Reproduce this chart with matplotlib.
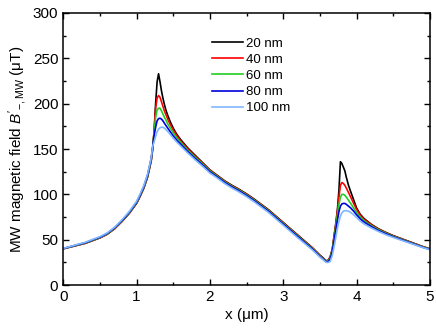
import numpy as np
import matplotlib
import matplotlib.pyplot as plt

matplotlib.use("Agg")

matplotlib.rcParams['font.family'] = ['Liberation Sans', 'DejaVu Sans']
matplotlib.rcParams['mathtext.fontset'] = 'custom'
matplotlib.rcParams['mathtext.rm'] = 'Liberation Sans'
matplotlib.rcParams['mathtext.it'] = 'Liberation Sans:italic'

# ==============================================================================
# data (x in um, field in uT)
x_um = [0.0, 0.1, 0.2, 0.3, 0.4, 0.5, 0.6, 0.7, 0.8, 0.9, 1.0, 1.05, 1.1, 1.15, 1.2,
        1.22, 1.24, 1.26, 1.28, 1.30, 1.32, 1.34, 1.36, 1.38, 1.40, 1.43, 1.46, 1.5, 1.55,
        1.6, 1.7, 1.8, 1.9, 2.0,
        2.1, 2.2, 2.3, 2.4, 2.5, 2.6, 2.7, 2.8, 2.9, 3.0, 3.1, 3.2, 3.3, 3.4, 3.45, 3.5, 3.55,
        3.58, 3.61, 3.64, 3.67, 3.70, 3.72, 3.74, 3.76,
        3.78, 3.80, 3.82, 3.84, 3.86, 3.89, 3.92, 3.96, 4.0, 4.05, 4.1,
        4.2, 4.3, 4.4, 4.5, 4.6, 4.7, 4.8, 4.9, 5.0]

b_20nm = [40, 42, 44, 46, 49, 52, 56, 62, 70, 79, 90, 98, 107, 119, 137,
          150, 170, 200, 224, 233, 224, 214, 206, 199, 193, 186, 180, 173, 166,
          160.5, 151, 143, 135, 127,
          121, 115, 110, 105.5, 100.5, 95, 89, 83, 76, 69, 62, 55, 48, 41, 37, 33, 29.5,
          27, 27, 31, 40, 58, 70, 84, 105,
          136, 134, 130, 126, 119, 110, 103, 94, 85, 78, 73.5,
          67, 62, 58, 54.5, 51.5, 48.5, 45.5, 42.5, 40]
b_40nm = [40, 42, 44, 46.1, 49.1, 52.1, 56.2, 62.2, 70.2, 79.3, 90.3, 98.4, 107.5, 119.5, 137.5,
          150.5, 170, 195, 206, 209, 207, 202, 197, 192, 188, 182, 177, 171, 164.5,
          159, 150, 142, 134.3, 126.5,
          120.6, 114.6, 109.6, 105.1, 100.1, 94.6, 88.6, 82.6, 75.6, 68.6, 61.6, 54.6, 47.6, 40.6, 36.6, 32.6, 29.2,
          26.7, 26.7, 30.5, 39.5, 57, 68, 82, 97,
          110, 113, 112, 110, 107, 102, 97, 90, 83.5, 77, 72.5,
          66.5, 61.5, 57.7, 54.2, 51.2, 48.3, 45.3, 42.3, 39.8]
b_60nm = [40.2, 42.2, 44.3, 46.4, 49.4, 52.4, 56.5, 62.6, 70.6, 79.7, 90.8, 99, 108.2, 120.3, 138.5,
          151.5, 169, 185, 193, 195, 195, 192, 188.5, 185, 182, 177, 173, 168, 162,
          157.5, 148.5, 141, 133.5, 125.8,
          120, 114, 109, 104.5, 99.5, 94, 88, 82, 75, 68, 61, 54, 47, 40, 36, 32, 28.7,
          26.3, 26.2, 29.5, 38.5, 55, 66, 78, 89,
          97, 100, 100, 99, 97, 93.5, 90, 85, 80, 75, 71,
          65.5, 61, 57.2, 53.8, 50.8, 47.9, 45, 42, 39.6]
b_80nm = [40.3, 42.4, 44.6, 46.7, 49.8, 52.8, 57, 63.1, 71.1, 80.2, 91.4, 99.7, 109, 121.2, 139.5,
          152.5, 165, 174, 181, 183.5, 184, 183, 181, 178.5, 176, 172.5, 169, 164.5, 159.5,
          155.5, 147, 139.5, 132.3, 124.8,
          119.2, 113.2, 108.2, 103.7, 98.7, 93.2, 87.2, 81.2, 74.2, 67.2, 60.2, 53.2, 46.3, 39.4, 35.5, 31.5, 28.2,
          25.9, 25.6, 28.2, 37, 52, 62, 72, 81,
          87, 89.5, 90, 90, 89, 87, 85, 81.5, 77.5, 73, 69.5,
          64.5, 60, 56.5, 53.2, 50.3, 47.5, 44.6, 41.7, 39.3]
b_100nm = [40.5, 42.6, 44.9, 47.1, 50.2, 53.3, 57.5, 63.7, 71.8, 81, 92.3, 100.7, 110, 122.3, 140.5,
           153, 158, 164, 169, 172, 173.5, 174, 174, 173, 171.5, 169, 166, 162, 157.5,
           153.5, 145.5, 138, 131, 123.5,
           118, 112, 107, 102.5, 97.5, 92, 86, 80, 73, 66, 59, 52, 45.3, 38.5, 34.7, 30.8, 27.5,
           25.3, 24.8, 26, 33, 45, 54, 63, 70,
           76, 79.5, 81.5, 82, 82, 81.5, 80, 77.5, 74.5, 70.5, 67.5,
           63, 59, 55.5, 52.5, 49.7, 47, 44.2, 41.4, 39]

series = [b_20nm, b_40nm, b_60nm, b_80nm, b_100nm]
labels = ['20 nm', '40 nm', '60 nm', '80 nm', '100 nm']
colors = ['black', '#ff0000', '#22cc22', '#0000dd', '#80b8ff']

# ==============================================================================
fig = plt.figure(figsize=(4.36, 3.33), dpi=100)
ax = fig.add_axes([0.145, 0.144, 0.841, 0.817])

for y, lab, col in zip(series, labels, colors):
    ax.plot(x_um, y, '-', c=col, lw=1.2, label=lab)

ax.set_xlim(0, 5)
ax.set_ylim(0, 300)
ax.set_xticks(np.arange(0, 6, 1))
ax.set_xticks(np.arange(0, 5.01, 0.5), minor=True)
ax.set_yticks(np.arange(0, 301, 50))
ax.set_yticks(np.arange(0, 301, 25), minor=True)

ax.tick_params(which='both', direction='in', top=True, right=True, labelsize=11,
               width=1.0, colors='black')
ax.tick_params(which='major', length=4)
ax.tick_params(which='minor', length=2.5)
for sp in ax.spines.values():
    sp.set_linewidth(1.1)

ax.set_xlabel('x (μm)', fontsize=11, labelpad=3)
ax.set_ylabel(r"MW magnetic field $B'_{\mathrm{-,MW}}$ (μT)", fontsize=11, labelpad=3)

ax.legend(loc='upper left', bbox_to_anchor=(0.392, 0.93), frameon=False, fontsize=9.5,
          handlelength=2.3, handletextpad=0.25, labelspacing=0.3, borderaxespad=0)

fig.savefig('out.png', dpi=100)
